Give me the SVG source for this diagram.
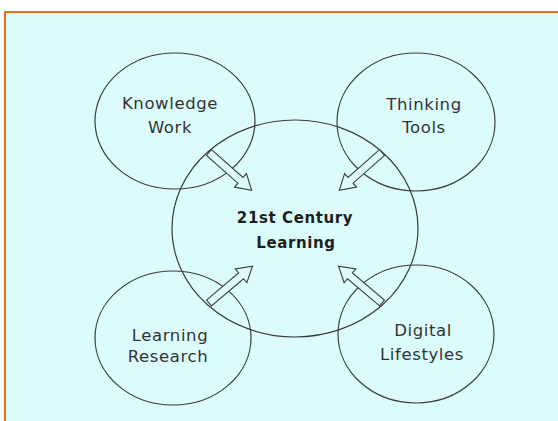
<svg xmlns="http://www.w3.org/2000/svg" width="558" height="421" viewBox="0 0 558 421">
  <style>
    .ring { fill: none; stroke: #3c3c3c; stroke-width: 1.2; }
    .lbl { font-family: "DejaVu Sans", "Liberation Sans", sans-serif; font-size: 16.5px; fill: #333; text-anchor: middle; letter-spacing: 0.6px; }
    .main { font-family: "DejaVu Sans", "Liberation Sans", sans-serif; font-size: 15px; font-weight: bold; fill: #1e1e1e; text-anchor: middle; letter-spacing: 0.6px; }
    .arrow { fill: #dcfcfc; stroke: #3c3c3c; stroke-width: 1.1; stroke-linejoin: miter; }
  </style>
  <defs>
    <path id="hollowArrow" d="M0,-3.8 L42,-3.8 L42,-9 L57,0 L42,9 L42,3.8 L0,3.8 Z"/>
  </defs>
  <rect x="0" y="0" width="558" height="421" fill="#ffffff"/>
  <rect x="5" y="12" width="560" height="420" fill="#dcfcfc" stroke="#e8701a" stroke-width="2"/>

  <g id="knowledge-work">
    <ellipse class="ring" cx="175" cy="121" rx="80" ry="68"/>
    <text class="lbl" x="170" y="109">Knowledge</text>
    <text class="lbl" x="170" y="133">Work</text>
  </g>
  <g id="thinking-tools">
    <ellipse class="ring" cx="416" cy="122" rx="79" ry="69"/>
    <text class="lbl" x="424" y="110">Thinking</text>
    <text class="lbl" x="424" y="133">Tools</text>
  </g>
  <g id="learning-research">
    <ellipse class="ring" cx="173" cy="338" rx="78" ry="67"/>
    <text class="lbl" x="170" y="341">Learning</text>
    <text class="lbl" x="168" y="362">Research</text>
  </g>
  <g id="digital-lifestyles">
    <ellipse class="ring" cx="416" cy="334" rx="78" ry="69"/>
    <text class="lbl" x="423" y="336">Digital</text>
    <text class="lbl" x="422" y="360">Lifestyles</text>
  </g>
  <g id="century-learning">
    <ellipse class="ring" cx="295" cy="228.5" rx="123" ry="108.5"/>
    <text class="main" x="295" y="223">21st Century</text>
    <text class="main" x="296" y="248">Learning</text>
  </g>

  <g id="connectors">
    <use href="#hollowArrow" class="arrow" transform="translate(209,152.5) rotate(41.5)"/>
    <use href="#hollowArrow" class="arrow" transform="translate(382,152.5) rotate(138.5)"/>
    <use href="#hollowArrow" class="arrow" transform="translate(209,303) rotate(-40.3)"/>
    <use href="#hollowArrow" class="arrow" transform="translate(382,303) rotate(-139.7)"/>
  </g>
</svg>
